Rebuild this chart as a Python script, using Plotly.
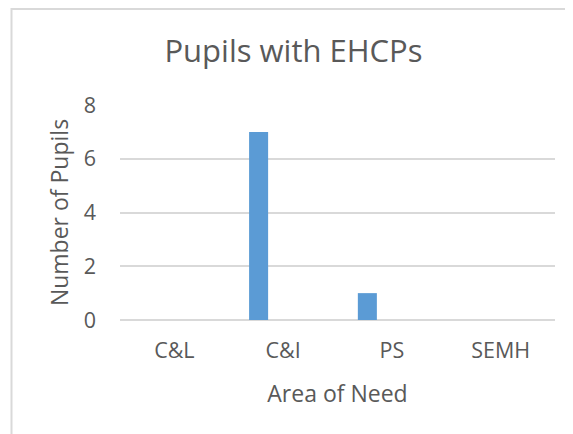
import plotly.graph_objects as go

categories = ["C&L", "C&I", "PS", "SEMH"]
pupils = [0, 7, 1, 0]
y_ticks = [0, 2, 4, 6, 8]

TEXT = "#595959"
GRID = "#D9D9D9"
FONT = "Open Sans"

# page is offset by the 8px body margin
W, H = 565, 426
L, R, T, B = 112, 18, 97, 114
pw, ph = W - L - R, H - T - B

fig = go.Figure()
fig.add_trace(go.Bar(
    x=categories, y=pupils,
    marker=dict(color="#5B9BD5", line=dict(width=0)),
    width=0.175, offset=-0.313,
    hoverinfo="skip",
))

fig.update_layout(
    width=W, height=H,
    margin=dict(l=L, r=R, t=T, b=B),
    paper_bgcolor="white", plot_bgcolor="white",
    showlegend=False,
    font=dict(family=FONT, color=TEXT),
    title=dict(text="Pupils with EHCPs", x=285.5 / W, xanchor="center",
               y=1 - 43 / H, yanchor="middle",
               font=dict(family=FONT, size=31, color=TEXT)),
    xaxis=dict(
        type="category", showgrid=False, showline=False, zeroline=False,
        ticks="", tickfont=dict(size=21.5, color=TEXT), ticklabelstandoff=15,
        title=dict(text="Area of Need", font=dict(size=23, color=TEXT), standoff=23),
        fixedrange=True,
    ),
    yaxis=dict(
        range=[0, 8], tickvals=y_ticks, showgrid=True, gridcolor=GRID, gridwidth=1.5,
        zeroline=True, zerolinecolor=GRID, zerolinewidth=1.5,
        showline=False, ticks="", ticklabelstandoff=23,
        tickfont=dict(size=21.5, color=TEXT),
        title=dict(text="Number of Pupils", font=dict(size=23, color=TEXT), standoff=8),
        fixedrange=True,
    ),
    shapes=[dict(
        type="rect", xref="paper", yref="paper",
        x0=(3.5 - L) / pw, x1=1.5, y0=-1.0, y1=(H - B - 1) / ph,
        line=dict(color=GRID, width=2), fillcolor="rgba(0,0,0,0)", layer="below",
    )],
)

fig.write_html("out.html")
